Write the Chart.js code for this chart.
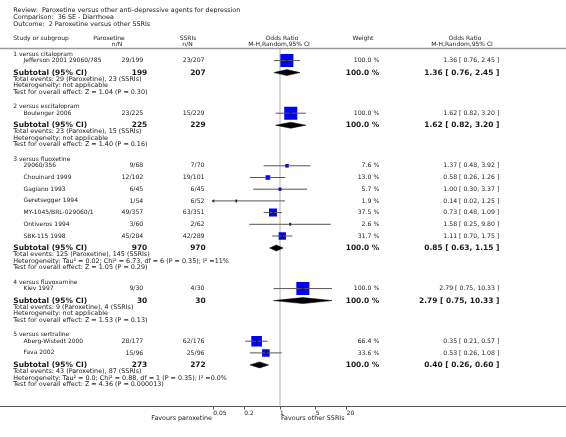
<!DOCTYPE html>
<html>
<head>
<meta charset="utf-8">
<title>Paroxetine versus other SSRIs</title>
<script src="https://cdn.jsdelivr.net/npm/chart.js@4.4.0/dist/chart.umd.min.js"></script>
<style>
  html, body { margin: 0; padding: 0; background: #fff; }
</style>
</head>
<body>
<canvas id="forest" width="566" height="437"></canvas>
<script>
'use strict';

// header texts
const titleLines = [
  'Review:  Paroxetine versus other anti-depressive agents for depression',
  'Comparison:  36 SE - Diarrhoea',
  'Outcome:  2 Paroxetine versus other SSRIs'
];

// subgroups
const groupNames = [
  '1 versus citalopram',
  '2 versus escitalopram',
  '3 versus fluoxetine',
  '4 versus fluvoxamine',
  '5 versus sertraline'
];

// studies (one entry per row)
const studyNames = [
  'Jefferson 2001 29060/785',
  'Boulenger 2006',
  '29060/356',
  'Chouinard 1999',
  'Gagiano 1993',
  'Geretsegger 1994',
  'MY-1045/BRL-029060/1',
  'Ontiveros 1994',
  'SBK-115 1998',
  'Kiev 1997',
  'Aberg-Wistedt 2000',
  'Fava 2002'
];
const studyGroup = [0, 1, 2, 2, 2, 2, 2, 2, 2, 3, 4, 4];
const paroxCounts = ['29/199', '23/225', '9/68', '12/102', '6/45', '1/54', '49/357', '3/60', '45/284', '9/30', '28/177', '15/96'];
const ssriCounts = ['23/207', '15/229', '7/70', '19/101', '6/45', '6/52', '63/351', '2/62', '42/289', '4/30', '62/176', '25/96'];
const studyWeight = [100.0, 100.0, 7.6, 13.0, 5.7, 1.9, 37.5, 2.6, 31.7, 100.0, 66.4, 33.6];
const studyOR = [1.36, 1.62, 1.37, 0.58, 1.00, 0.14, 0.73, 1.58, 1.11, 2.79, 0.35, 0.53];
const studyLow = [0.76, 0.82, 0.48, 0.26, 0.30, 0.02, 0.48, 0.25, 0.70, 0.75, 0.21, 0.26];
const studyHigh = [2.45, 3.20, 3.92, 1.26, 3.37, 1.25, 1.09, 9.80, 1.75, 10.33, 0.57, 1.08];

// subtotals
const subParox = [199, 225, 970, 30, 273];
const subSsri = [207, 229, 970, 30, 272];
const subOR = [1.36, 1.62, 0.85, 2.79, 0.40];
const subLow = [0.76, 0.82, 0.63, 0.75, 0.26];
const subHigh = [2.45, 3.20, 1.15, 10.33, 0.60];
const subEvents = [
  'Total events: 29 (Paroxetine), 23 (SSRIs)',
  'Total events: 23 (Paroxetine), 15 (SSRIs)',
  'Total events: 125 (Paroxetine), 145 (SSRIs)',
  'Total events: 9 (Paroxetine), 4 (SSRIs)',
  'Total events: 43 (Paroxetine), 87 (SSRIs)'
];
const subHetero = [
  'Heterogeneity: not applicable',
  'Heterogeneity: not applicable',
  'Heterogeneity: Tau\u00b2 = 0.02; Chi\u00b2 = 6.73, df = 6 (P = 0.35); I\u00b2 =11%',
  'Heterogeneity: not applicable',
  'Heterogeneity: Tau\u00b2 = 0.0; Chi\u00b2 = 0.88, df = 1 (P = 0.35); I\u00b2 =0.0%'
];
const subTest = [
  'Test for overall effect: Z = 1.04 (P = 0.30)',
  'Test for overall effect: Z = 1.40 (P = 0.16)',
  'Test for overall effect: Z = 1.05 (P = 0.29)',
  'Test for overall effect: Z = 1.53 (P = 0.13)',
  'Test for overall effect: Z = 4.36 (P = 0.000013)'
];

// axis
const xTicks = [0.05, 0.2, 1, 5, 20];
const xTickLabels = ['0.05', '0.2', '1', '5', '20'];
const xMin = 0.05;
const xMax = 20;

// page geometry
const W = 566;
const H = 437;
const plotLeft = 213.3;
const plotRight = 346.7;
const topLine = 48.5;
const axisLine = 406.5;
const FONT = '"DejaVu Sans", Verdana, sans-serif';
const TEXT = '#1a1a1a';

// row positions, worked out from the group structure
let groupY = [];
let studyY = [];
let subY = [];

function buildLayout() {
  let y = 54.3;
  for (let g = 0; g < groupNames.length; g++) {
    groupY.push(y);
    y += 6.3;
    let first = true;
    for (let i = 0; i < studyNames.length; i++) {
      if (studyGroup[i] !== g) continue;
      if (!first) y += 11.7;
      studyY[i] = y;
      first = false;
    }
    y += 12;
    subY.push(y);
    y += 19.5 + 14.8;
  }
}

// square side grows with the square root of the weight
function squareRadius(w) {
  let side = 13 * Math.sqrt(w / 100);
  return side / Math.SQRT2;
}

function buildDatasets() {
  let sets = [];

  // line of no effect
  sets.push({
    data: [{x: 1, y: topLine}, {x: 1, y: axisLine}],
    borderColor: '#d9d9d9',
    borderWidth: 2,
    pointRadius: 0,
    order: 6
  });

  // study squares
  sets.push({
    data: studyNames.map((n, i) => ({x: studyOR[i], y: studyY[i]})),
    showLine: false,
    pointStyle: 'rect',
    pointRadius: studyWeight.map(squareRadius),
    backgroundColor: '#0000ff',
    borderColor: '#0000ff',
    borderWidth: 0,
    order: 3
  });

  // confidence intervals, clipped to the axis with an arrow
  for (let i = 0; i < studyNames.length; i++) {
    let lo = Math.max(studyLow[i], xMin);
    let hi = Math.min(studyHigh[i], xMax);
    sets.push({
      data: [{x: lo, y: studyY[i]}, {x: hi, y: studyY[i]}],
      borderColor: '#555',
      borderWidth: 1,
      pointStyle: 'triangle',
      pointRadius: [studyLow[i] < xMin ? 2 : 0, studyHigh[i] > xMax ? 2 : 0],
      pointRotation: [-90, 90],
      pointBackgroundColor: '#333',
      pointBorderWidth: 0,
      clip: 4,
      order: 2
    });
  }

  // estimate ticks
  sets.push({
    data: studyNames.map((n, i) => ({x: studyOR[i], y: studyY[i]})),
    showLine: false,
    pointStyle: 'line',
    pointRotation: 90,
    pointRadius: 1.6,
    pointBorderColor: '#111',
    pointBorderWidth: 1,
    order: 1
  });

  // subtotal diamonds
  for (let g = 0; g < groupNames.length; g++) {
    let y = subY[g];
    sets.push({
      data: [
        {x: subLow[g], y: y},
        {x: subOR[g], y: y - 3},
        {x: subHigh[g], y: y},
        {x: subOR[g], y: y + 3},
        {x: subLow[g], y: y}
      ],
      fill: 'shape',
      backgroundColor: '#000',
      borderColor: '#000',
      borderWidth: 0.5,
      pointRadius: 0,
      tension: 0,
      order: 4
    });
  }
  return sets;
}

function put(ctx, str, x, y, align, font) {
  ctx.font = font;
  ctx.textAlign = align;
  ctx.fillText(str, x, y);
}

// all the table text around the plot
const textPlugin = {
  id: 'forestText',
  afterDraw(chart) {
    const ctx = chart.ctx;
    const yS = chart.scales.y;
    const title = '6.4px ' + FONT;
    const head = '6px ' + FONT;
    const name = '6px ' + FONT;
    const num = '6.2px ' + FONT;
    const foot = '6.4px ' + FONT;
    const bold = 'bold 7.45px ' + FONT;
    ctx.save();
    ctx.fillStyle = TEXT;
    ctx.textBaseline = 'middle';

    put(ctx, titleLines[0], 13.3, 10.7, 'left', title);
    put(ctx, titleLines[1], 13.3, 17.3, 'left', title);
    put(ctx, titleLines[2], 13.3, 24, 'left', title);

    put(ctx, 'Study or subgroup', 13.3, 38, 'left', head);
    put(ctx, 'Paroxetine', 109, 38, 'center', head);
    put(ctx, 'n/N', 117, 44, 'center', head);
    put(ctx, 'SSRIs', 188, 38, 'center', head);
    put(ctx, 'n/N', 187.5, 44, 'center', head);
    put(ctx, 'Odds Ratio', 282, 38, 'center', head);
    put(ctx, 'M-H,Random,95% CI', 279, 44, 'center', head);
    put(ctx, 'Weight', 363, 38, 'center', head);
    put(ctx, 'Odds Ratio', 465, 38, 'center', head);
    put(ctx, 'M-H,Random,95% CI', 462, 44, 'center', head);

    ctx.strokeStyle = '#999';
    ctx.lineWidth = 1.5;
    ctx.beginPath();
    ctx.moveTo(0, topLine);
    ctx.lineTo(W, topLine);
    ctx.stroke();

    for (let g = 0; g < groupNames.length; g++) {
      put(ctx, groupNames[g], 13.3, groupY[g], 'left', name);
    }

    for (let i = 0; i < studyNames.length; i++) {
      let y = yS.getPixelForValue(studyY[i]);
      put(ctx, studyNames[i], 23.5, y, 'left', name);
      put(ctx, paroxCounts[i], 143.3, y, 'right', num);
      put(ctx, ssriCounts[i], 204.5, y, 'right', num);
      put(ctx, studyWeight[i].toFixed(1) + ' %', 379.3, y, 'right', num);
      let ci = studyOR[i].toFixed(2) + ' [ ' + studyLow[i].toFixed(2) + ', ' + studyHigh[i].toFixed(2) + ' ]';
      put(ctx, ci, 499.3, y, 'right', num);
    }

    for (let g = 0; g < groupNames.length; g++) {
      let y = yS.getPixelForValue(subY[g]);
      put(ctx, 'Subtotal (95% CI)', 13.3, y, 'left', bold);
      put(ctx, String(subParox[g]), 147.3, y, 'right', bold);
      put(ctx, String(subSsri[g]), 205.7, y, 'right', bold);
      put(ctx, '100.0 %', 379.3, y, 'right', bold);
      let ci = subOR[g].toFixed(2) + ' [ ' + subLow[g].toFixed(2) + ', ' + subHigh[g].toFixed(2) + ' ]';
      put(ctx, ci, 499.3, y, 'right', bold);
      put(ctx, subEvents[g], 13.3, y + 6.5, 'left', foot);
      put(ctx, subHetero[g], 13.3, y + 13, 'left', foot);
      put(ctx, subTest[g], 13.3, y + 19.5, 'left', foot);
    }

    // axis line runs the full width
    ctx.strokeStyle = '#555';
    ctx.lineWidth = 1;
    ctx.beginPath();
    ctx.moveTo(0, axisLine);
    ctx.lineTo(W, axisLine);
    ctx.stroke();

    put(ctx, 'Favours paroxetine', 212, 418, 'right', foot);
    put(ctx, 'Favours other SSRIs', 281, 418, 'left', foot);
    ctx.restore();
  }
};

buildLayout();

const chart = new Chart(document.getElementById('forest'), {
  type: 'line',
  data: { datasets: buildDatasets() },
  options: {
    responsive: false,
    devicePixelRatio: 1,
    animation: false,
    layout: {
      padding: { left: plotLeft, right: W - plotRight, top: topLine, bottom: 0 }
    },
    plugins: {
      legend: { display: false },
      tooltip: { enabled: false }
    },
    scales: {
      x: {
        type: 'logarithmic',
        min: xMin,
        max: xMax,
        afterBuildTicks(scale) {
          scale.ticks = xTicks.map(v => ({ value: v }));
        },
        afterFit(scale) {
          scale.height = H - axisLine;
        },
        border: { display: false },
        grid: {
          drawOnChartArea: false,
          drawTicks: true,
          tickLength: 3,
          color: '#555'
        },
        ticks: {
          align: 'start',
          padding: 0,
          color: TEXT,
          font: { family: FONT, size: 6 },
          maxRotation: 0,
          autoSkip: false,
          callback: (value, index) => xTickLabels[index]
        }
      },
      y: {
        type: 'linear',
        display: false,
        reverse: true,
        min: topLine,
        max: axisLine
      }
    }
  },
  plugins: [textPlugin]
});
</script>
</body>
</html>
